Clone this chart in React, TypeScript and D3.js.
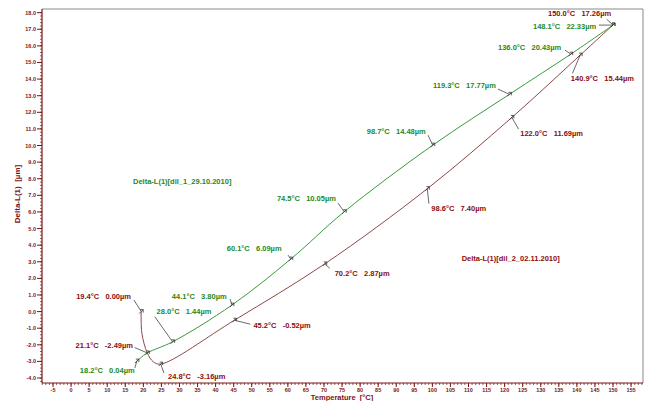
import React from "react";
import * as d3 from "d3";

// Curve 1 (green): Delta-L(1)[dil_1_29.10.2010]
const greenTemp = [18.2, 21.0, 28.1, 44.5, 60.8, 75.6, 100.1, 121.3, 138.3, 150.0];
const greenDelta = [-2.98, -2.5, -1.82, 0.39, 3.16, 6.01, 10.02, 13.08, 15.5, 17.25];
const greenLabelTemp = [18.2, 28.0, 44.1, 60.1, 74.5, 98.7, 119.3, 136.0, 148.1];
const greenLabelUm = [0.04, 1.44, 3.8, 6.09, 10.05, 14.48, 17.77, 20.43, 22.33];
const greenLabelIdx = [0, 2, 3, 4, 5, 6, 7, 8, 9];

// Curve 2 (red): Delta-L(1)[dil_2_02.11.2010]
const redTemp = [19.4, 19.6, 21.1, 22.75, 24.8, 45.2, 70.2, 98.6, 122.0, 140.9, 150.0];
const redDelta = [0.0, -1.31, -2.49, -3.02, -3.16, -0.52, 2.87, 7.4, 11.69, 15.44, 17.26];
const redLabelIdx = [0, 2, 4, 5, 6, 7, 8, 9, 10];

const yTicks = d3.range(-4, 18.01, 1);
const xTicks = d3.range(-5, 155.01, 5);

// annotation layout: [label dx, label dy, leader dx, leader dy] relative to marker
const greenLabelLayout = [
  [-57, 11.5, -2, 7],
  [-16, -28.2, -17.7, -25],
  [-60, -6.5, -1.7, -6],
  [-64, -8, -2.7, -4],
  [-67.3, -11.2, -6.3, -8.7],
  [-66, -11, -4.7, -10],
  [-76.3, -6.8, -11.3, -5.3],
  [-72.7, -4, -5.7, -4],
  [-80, 4, -14, 0],
];
const redLabelLayout = [
  [-65, -12.7, -7.3, -11.7],
  [-71.7, -5.2, -12.7, -5.4],
  [7.3, 15, 3.3, 9],
  [19, 7.5, 16, 4],
  [10, 12, 5, 4.3],
  [4, 22.7, 1.6, 15],
  [8.4, 18.2, 6.7, 11.7],
  [-9.3, 25.8, -7.7, 18.3],
  [-65, -8.5, -6.3, -5.7],
];

const W = 646;
const H = 401;
const L = 42, R = 643, T = 9, B = 383;
const AXIS = "#7a1414";
const GREEN = "#3a9a3a";
const GREEN_TXT = "#1e8a1e";
const RED = "#8f4848";
const RED_TXT = "#8b0d0d";
const FONT = "'Liberation Sans', Arial, sans-serif";

export default function App() {
  const x = d3.scaleLinear().domain([-8.05, 158.3]).range([L, R]);
  const y = d3.scaleLinear().domain([-4.3, 18.22]).range([B, T]);
  const line = d3
    .line<[number, number]>()
    .x((d) => x(d[0]))
    .y((d) => y(d[1]))
    .curve(d3.curveCatmullRom.alpha(0.5));

  const gPts: [number, number][] = greenTemp.map((t, i) => [t, greenDelta[i]]);
  const rPts: [number, number][] = redTemp.map((t, i) => [t, redDelta[i]]);

  const minorX = d3.range(-8, 158.01, 1);
  const minorY = d3.range(-4.2, 18.2, 0.2);

  const fmtLabel = (t: number, v: number) => `${t.toFixed(1)}°C   ${v.toFixed(2)}µm`;

  const marker = (px: number, py: number, key: string) => (
    <g key={key} stroke="#333" strokeWidth={0.8} fill="none">
      <path d={`M${px - 2},${py + 2} L${px + 2},${py - 2} M${px - 1},${py - 2} L${px + 2},${py - 2} L${px + 2},${py + 1}`} />
    </g>
  );

  return (
    <svg
      width={W}
      height={H}
      style={{ position: "absolute", left: 0, top: 0, background: "#fff" }}
      fontFamily={FONT}
    >
      <rect x={0} y={0} width={W} height={H} fill="#fff" />
      {/* frame */}
      <line x1={L} x2={R} y1={T} y2={T} stroke="#8a8a8a" strokeWidth={1} />
      <line x1={R} x2={R} y1={T} y2={B} stroke="#8a8a8a" strokeWidth={1} />

      {/* y axis */}
      <line x1={L} x2={L} y1={T} y2={B} stroke={AXIS} strokeWidth={1.2} />
      {minorY.map((v, i) => (
        <line key={"my" + i} x1={L - 2} x2={L} y1={y(v)} y2={y(v)} stroke={AXIS} strokeWidth={0.7} />
      ))}
      {yTicks.map((v) => (
        <g key={"yt" + v}>
          <line x1={L - 5} x2={L} y1={y(v)} y2={y(v)} stroke={AXIS} strokeWidth={1} />
          <text
            x={L - 6}
            y={y(v) + 2}
            fontSize={5.5}
            fontWeight="bold"
            fill={AXIS}
            textAnchor="end"
          >
            {v.toFixed(1)}
          </text>
        </g>
      ))}
      <text
        transform={`translate(20,194) rotate(-90)`}
        fontSize={8}
        fontWeight="bold"
        fill={AXIS}
        textAnchor="middle"
        style={{ whiteSpace: "pre" }}
      >
        Delta-L(1)  [µm]
      </text>

      {/* x axis */}
      <line x1={L} x2={R} y1={B} y2={B} stroke={AXIS} strokeWidth={1.2} />
      {minorX.map((t, i) => (
        <line key={"mx" + i} x1={x(t)} x2={x(t)} y1={B} y2={B + 2} stroke={AXIS} strokeWidth={0.7} />
      ))}
      {xTicks.map((t) => (
        <g key={"xt" + t}>
          <line x1={x(t)} x2={x(t)} y1={B} y2={B + 4} stroke={AXIS} strokeWidth={1} />
          <text x={x(t)} y={B + 9} fontSize={5.5} fontWeight="bold" fill={AXIS} textAnchor="middle">
            {t}
          </text>
        </g>
      ))}
      <text x={342} y={400} fontSize={7.5} fontWeight="bold" fill={AXIS} textAnchor="middle" style={{ whiteSpace: "pre" }}>
        Temperature  [°C]
      </text>

      {/* curves */}
      <path d={line(rPts) || ""} fill="none" stroke={RED} strokeWidth={1} />
      <path d={line(gPts) || ""} fill="none" stroke={GREEN} strokeWidth={1} />

      {/* green annotations */}
      {greenLabelIdx.map((idx, i) => {
        const px = x(greenTemp[idx]);
        const py = y(greenDelta[idx]);
        const [ldx, ldy, sdx, sdy] = greenLabelLayout[i];
        return (
          <g key={"ga" + i}>
            <line x1={px + sdx} y1={py + sdy} x2={px} y2={py} stroke="#444" strokeWidth={0.8} />
            {marker(px, py, "gm" + i)}
            <text
              x={px + ldx}
              y={py + ldy}
              fontSize={7.5}
              fontWeight="bold"
              fill={GREEN_TXT}
              style={{ whiteSpace: "pre" }}
            >
              {fmtLabel(greenLabelTemp[i], greenLabelUm[i])}
            </text>
          </g>
        );
      })}

      {/* red annotations */}
      {redLabelIdx.map((idx, i) => {
        const px = x(redTemp[idx]);
        const py = y(redDelta[idx]);
        const [ldx, ldy, sdx, sdy] = redLabelLayout[i];
        return (
          <g key={"ra" + i}>
            <line x1={px + sdx} y1={py + sdy} x2={px} y2={py} stroke="#444" strokeWidth={0.8} />
            {marker(px, py, "rm" + i)}
            <text
              x={px + ldx}
              y={py + ldy}
              fontSize={7.5}
              fontWeight="bold"
              fill={RED_TXT}
              style={{ whiteSpace: "pre" }}
            >
              {fmtLabel(redTemp[idx], redDelta[idx])}
            </text>
          </g>
        );
      })}

      {/* series names */}
      <text x={133} y={184} fontSize={7.5} fontWeight="bold" fill={GREEN_TXT}>
        Delta-L(1)[dil_1_29.10.2010]
      </text>
      <text x={461.7} y={261} fontSize={7.5} fontWeight="bold" fill={RED_TXT}>
        Delta-L(1)[dil_2_02.11.2010]
      </text>
    </svg>
  );
}
